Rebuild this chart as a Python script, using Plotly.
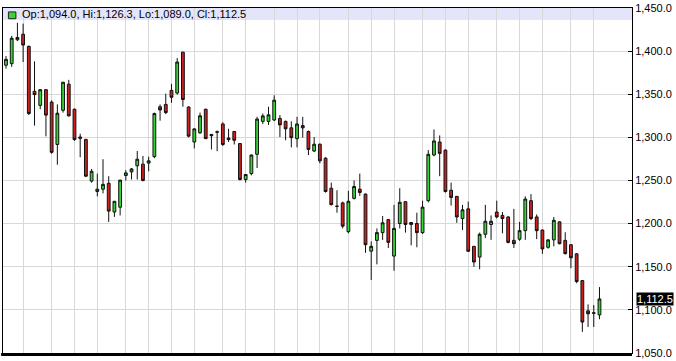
import plotly.graph_objects as go

opens = [1383.8,1385.6,1413.3,1419.7,1405.7,1353.5,1337.2,1355.4,1341.0,1291.8,
         1331.5,1361.8,1332.7,1300.5,1297.5,1249.3,1237.3,1239.9,1246.7,1213.4,
         1219.0,1255.8,1260.0,1267.1,1269.0,1270.2,1277.7,1335.6,1338.3,1354.6,
         1351.5,1398.9,1335.3,1294.7,1305.4,1332.7,1303.5,1306.0,1315.6,1299.3,
         1306.9,1292.9,1251.2,1258.0,1280.4,1318.6,1318.6,1320.2,1322.0,1318.6,
         1311.1,1298.6,1313.7,1306.9,1284.2,1292.1,1275.9,1241.0,1220.2,1224.0,
         1190.6,1229.3,1239.9,1234.2,1168.0,1180.5,1189.5,1204.6,1162.3,1200.1,
         1225.4,1201.2,1200.1,1189.5,1226.6,1279.6,1294.7,1285.3,1238.7,1231.6,
         1205.8,1217.1,1173.6,1161.1,1187.6,1198.9,1213.4,1209.5,1207.7,1180.5,
         1181.9,1191.8,1226.6,1207.7,1192.5,1172.5,1181.1,1202.0,1180.5,1175.5,
         1164.9,1133.8,1098.7,1096.5,1094.0]
highs = [1394.4,1417.9,1433.0,1432.0,1406.5,1388.3,1355.8,1356.0,1343.0,1338.3,
         1364.5,1366.8,1333.5,1304.3,1298.5,1263.4,1258.0,1274.7,1255.0,1226.0,
         1251.0,1262.0,1264.5,1284.2,1278.5,1277.7,1328.8,1338.3,1350.8,1362.2,
         1392.1,1399.5,1336.0,1310.5,1328.8,1333.3,1304.0,1308.0,1317.5,1310.0,
         1307.5,1293.5,1257.5,1280.0,1323.9,1327.7,1335.6,1348.9,1325.9,1319.5,
         1318.6,1323.9,1323.9,1308.0,1300.4,1293.0,1277.0,1247.5,1238.7,1225.5,
         1238.0,1250.1,1258.0,1235.0,1179.3,1194.4,1208.8,1205.0,1221.7,1241.0,
         1226.0,1201.5,1212.6,1226.6,1285.3,1309.2,1302.3,1286.0,1247.5,1232.0,
         1221.7,1225.5,1174.0,1189.5,1221.7,1209.5,1226.6,1213.4,1208.5,1217.1,
         1202.0,1231.6,1234.2,1210.6,1193.0,1181.5,1207.7,1202.5,1189.9,1176.0,
         1165.5,1134.5,1106.2,1105.5,1126.3]
lows = [1379.9,1381.9,1412.0,1387.5,1326.0,1313.7,1332.7,1301.2,1281.0,1268.3,
        1328.8,1324.0,1296.0,1277.0,1254.0,1247.5,1231.6,1235.0,1202.0,1207.7,
        1209.5,1250.0,1251.2,1251.2,1249.0,1260.6,1275.9,1319.4,1327.0,1340.2,
        1349.7,1335.6,1300.0,1287.2,1304.0,1298.0,1286.0,1284.0,1290.0,1294.7,
        1291.8,1250.0,1247.5,1256.0,1264.5,1315.6,1314.5,1319.0,1300.4,1296.7,
        1288.4,1288.4,1299.7,1279.6,1283.0,1270.0,1236.0,1221.0,1212.6,1194.4,
        1188.7,1228.0,1232.2,1166.0,1134.6,1152.7,1181.1,1171.7,1145.2,1194.4,
        1189.5,1174.8,1172.5,1188.0,1224.7,1278.0,1255.0,1236.0,1220.9,1200.9,
        1192.5,1167.0,1149.8,1147.0,1183.1,1181.1,1206.0,1188.7,1177.0,1171.7,
        1180.0,1181.1,1204.0,1182.0,1164.9,1170.9,1173.6,1176.0,1164.0,1148.2,
        1130.8,1074.3,1080.0,1080.0,1089.0]
closes = [1390.6,1415.1,1416.0,1407.2,1327.7,1349.7,1355.4,1325.9,1282.7,1328.1,
          1364.0,1325.1,1297.5,1299.0,1255.0,1260.7,1239.9,1245.5,1214.5,1225.9,
          1250.4,1258.8,1263.4,1274.7,1250.1,1272.8,1327.7,1331.9,1328.8,1346.6,
          1387.5,1344.0,1301.5,1309.9,1325.1,1298.6,1302.0,1306.5,1291.8,1297.5,
          1296.7,1251.2,1257.0,1279.6,1321.3,1325.0,1326.2,1343.2,1314.5,1310.0,
          1299.7,1315.6,1311.1,1286.1,1292.1,1272.8,1237.2,1222.0,1220.0,1197.0,
          1225.9,1243.0,1236.1,1175.5,1173.6,1189.5,1200.9,1178.2,1194.4,1224.7,
          1199.0,1199.0,1189.5,1219.1,1280.4,1295.9,1281.5,1237.2,1230.4,1207.7,
          1216.0,1167.9,1155.4,1187.6,1202.7,1202.7,1207.7,1205.8,1178.2,1176.6,
          1191.8,1228.5,1205.8,1191.8,1170.6,1181.1,1203.8,1176.6,1165.2,1160.3,
          1132.7,1085.7,1095.3,1096.0,1112.5]

grid_positions = [3, 8, 12, 16, 21, 25, 29, 33, 38, 42, 47, 51, 55, 60, 64, 68,
                  73, 77, 81, 86, 90, 94, 99, 103]
y_ticks = [1050, 1100, 1150, 1200, 1250, 1300, 1350, 1400, 1450]
y_labels = ["1,050.0", "1,100.0", "1,150.0", "1,200.0", "1,250.0",
            "1,300.0", "1,350.0", "1,400.0", "1,450.0"]
header_text = "Op:1,094.0, Hi:1,126.3, Lo:1,089.0, Cl:1,112.5"
last_label = "1,112.5"

x_idx = list(range(len(opens)))

FONT = "Liberation Sans"
GREEN = "#33d633"
RED = "#cc2020"

fig = go.Figure()
fig.add_trace(go.Candlestick(
    x=x_idx, open=opens, high=highs, low=lows, close=closes,
    increasing=dict(fillcolor=GREEN, line=dict(color="#111111", width=1)),
    decreasing=dict(fillcolor=RED, line=dict(color="#111111", width=1)),
    whiskerwidth=0, showlegend=False, hoverinfo="skip",
))

fig.update_layout(
    width=676, height=361,
    margin=dict(l=2, r=44, t=6, b=4),
    paper_bgcolor="white", plot_bgcolor="white",
    showlegend=False,
    font=dict(family=FONT, size=11, color="black"),
    xaxis=dict(
        range=[-0.525, 109.7], rangeslider=dict(visible=False),
        tickmode="array", tickvals=grid_positions, showticklabels=False,
        showgrid=True, gridcolor="#d9d9d9", gridwidth=1,
        zeroline=False, showline=True, linecolor="black", linewidth=1,
        mirror=True, ticks="", fixedrange=True,
    ),
    yaxis=dict(
        range=[1049.8, 1450.2], side="right",
        tickmode="array", tickvals=y_ticks, ticktext=y_labels,
        showgrid=True, gridcolor="#d9d9d9", gridwidth=1,
        zeroline=False, showline=True, linecolor="black", linewidth=1,
        mirror=True, ticks="inside", ticklen=4, tickcolor="black",
        tickfont=dict(family=FONT, size=11, color="black"),
        ticklabeloverflow="allow",
        fixedrange=True,
    ),
)

# header band
fig.add_shape(type="rect", xref="paper", yref="paper",
              x0=0, x1=1, y0=0.965, y1=1.0,
              fillcolor="#e4e4fa", line=dict(width=0), layer="below")
# green legend square
fig.add_shape(type="rect", xref="paper", yref="paper",
              x0=0.0086, x1=0.0205, y0=0.969, y1=0.9886,
              fillcolor=GREEN, line=dict(color="#222222", width=1), layer="above")
fig.add_annotation(text=header_text, xref="paper", yref="paper",
                   x=0.027, y=0.9825, xanchor="left", yanchor="middle",
                   showarrow=False, font=dict(family=FONT, size=11, color="black"))
# thick bottom line
fig.add_shape(type="line", xref="paper", yref="paper",
              x0=-0.003, x1=1, y0=-0.004, y1=-0.004,
              line=dict(color="black", width=3), layer="above")
# last price label
fig.add_annotation(text=last_label, xref="paper", yref="y",
                   x=1, y=closes[-1], xanchor="left", yanchor="middle",
                   xshift=4, showarrow=False, bgcolor="black", borderpad=0,
                   font=dict(family=FONT, size=11, color="white"))

fig.write_html("out.html")
